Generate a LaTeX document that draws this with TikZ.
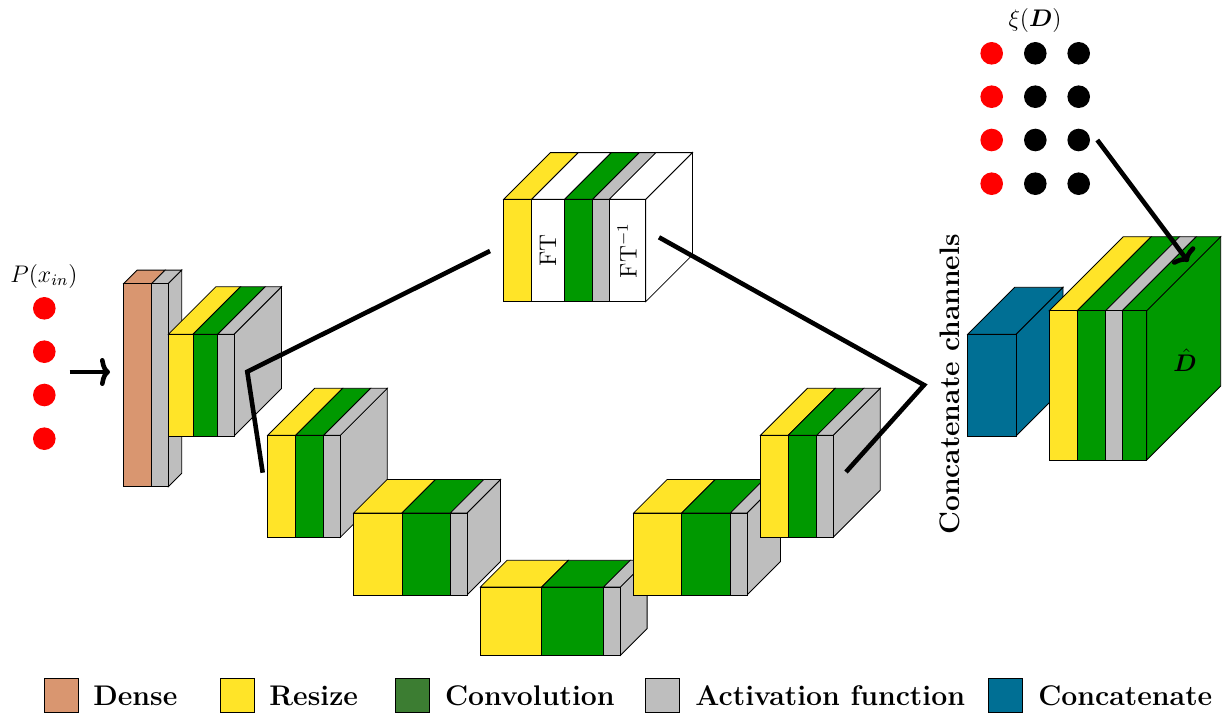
\documentclass[tikz,border=0pt]{standalone}
\usepackage{bm}
\usetikzlibrary{arrows.meta}

\definecolor{densecol}{RGB}{217,150,112}
\definecolor{resizecol}{RGB}{255,228,40}
\definecolor{convcol}{RGB}{0,153,0}
\definecolor{convkey}{RGB}{60,125,50}
\definecolor{activcol}{RGB}{190,190,190}
\definecolor{concatcol}{RGB}{0,111,148}

\tikzset{
  face/.style={draw=black,line width=0.4pt},
  wire/.style={draw,line width=2.3pt},
  keybox/.style={draw=black,line width=0.4pt,minimum width=17pt,minimum height=17pt,inner sep=0pt},
  keytext/.style={anchor=base west,inner sep=0pt,font=\fontsize{14.2}{17}\selectfont\bfseries}
}

% top, bottom, depth, x of the last panel edge, side colour, panels
\newcommand{\layerbox}[6]{
  \filldraw[face,fill=#5] (#4,#1) -- (#4+#3,#1-#3) -- (#4+#3,#2-#3) -- (#4,#2) -- cycle;
  \foreach \xl/\xr/\col in {#6} {
    \filldraw[face,fill=\col] (\xl,#1) -- (\xl+#3,#1-#3) -- (\xr+#3,#1-#3) -- (\xr,#1) -- cycle;
    \filldraw[face,fill=\col] (\xl,#1) rectangle (\xr,#2);
  }
}

\begin{document}
\begin{tikzpicture}[x=0.5pt,y=-0.5pt]

        \useasboundingbox (0,0) rectangle (1223,713);

        \layerbox{283.5}{486.7}{13.4}{168.3}{activcol}{123.7/151.7/densecol,151.7/168.3/activcol}
        \layerbox{334.3}{436}{47.5}{234}{activcol}{168.3/193/resizecol,193/217.7/convcol,217.7/234/activcol}
        \layerbox{435.3}{537.3}{47}{340.3}{activcol}{267.7/295.7/resizecol,295.7/323.7/convcol,323.7/340.3/activcol}
        \layerbox{513}{595}{33.5}{467}{activcol}{353.6/402/resizecol,402/450.4/convcol,450.4/467/activcol}
        \layerbox{587}{655.3}{26.7}{620.4}{activcol}{480.4/541.8/resizecol,541.8/603.6/convcol,603.6/620.4/activcol}
        \layerbox{513}{595}{33.5}{747}{activcol}{633.6/681.8/resizecol,681.8/730.4/convcol,730.4/747/activcol}
        \layerbox{435.3}{537.3}{47}{833.2}{activcol}{760.4/788.2/resizecol,788.2/816.8/convcol,816.8/833.2/activcol}
        \layerbox{199.3}{301.7}{46.7}{645.7}{white}{503.7/531.7/resizecol,531.7/564.7/white,564.7/592.7/convcol,592.7/609.3/activcol,609.3/645.7/white}
        \layerbox{334.3}{436}{47}{1016}{concatcol}{967.7/1016/concatcol}
        \layerbox{310.7}{460}{74}{1146.7}{convcol}{1049.3/1077.3/resizecol,1077.3/1105.7/convcol,1105.7/1122.3/activcol,1122.3/1146.7/convcol}

        \node[rotate=90,font=\large] (ftlabel) at (548,250.5) {FT};
        \node[rotate=90,font=\large] (ftinvlabel) at (627,250.5) {FT$^{-1}$};
        \node[rotate=90,font=\fontsize{14.1}{17}\selectfont\bfseries] (concatlabel) at (950,384.5) {Concatenate channels};
        \node[font=\large] (dhat) at (1185,360) {$\hat{\bm{D}}$};
        \node[font=\large] (pinput) at (44,276) {$P(x_{in})$};
        \node[font=\large] (xinoise) at (1035,20) {$\xi(\bm{D})$};

        \begin{scope}[every node/.style={circle,fill=red,minimum size=11.3pt,inner sep=0pt}]
          \node (1)  at (44.3,308.3) {};
          \node (2)  at (44.3,351.7) {};
          \node (3)  at (44.3,395)   {};
          \node (4)  at (44.3,438.7) {};
          \node (5)  at (991.7,53.3) {};
          \node (6)  at (991.7,96.7) {};
          \node (7)  at (991.7,140)  {};
          \node (8)  at (991.7,183.7) {};
        \end{scope}

        \begin{scope}[every node/.style={circle,fill=black,minimum size=11.3pt,inner sep=0pt}]
          \node (9)  at (1035.3,53.3) {};
          \node (10) at (1035.3,96.7) {};
          \node (11) at (1035.3,140)  {};
          \node (12) at (1035.3,183.7) {};
          \node (13) at (1078.7,53.3) {};
          \node (14) at (1078.7,96.7) {};
          \node (15) at (1078.7,140)  {};
          \node (16) at (1078.7,183.7) {};
        \end{scope}

        \coordinate (ftleft) at (490,251);
        \coordinate (bendleft) at (247.3,371.7);
        \coordinate (downin) at (262.7,472.7);
        \coordinate (ftright) at (659,237.3);
        \coordinate (bendright) at (924,385);
        \coordinate (upout) at (846,472);
        \coordinate (inarrow) at (69.7,372);
        \coordinate (denseside) at (110,372);
        \coordinate (dotsout) at (1097.3,140);
        \coordinate (finalbox) at (1188.3,261.7);

        \draw[wire] (ftleft) -- (bendleft) -- (downin);
        \draw[wire] (ftright) -- (bendright) -- (upout);

        \begin{scope}[every edge/.style={wire,-{To[length=5pt,width=14pt]}}]
          \path (inarrow) edge (denseside);
          \path (dotsout) edge (finalbox);
        \end{scope}

        \node[keybox,fill=densecol] (k1) at (61.5,695) {};
        \node[keybox,fill=resizecol] (k2) at (237,695) {};
        \node[keybox,fill=convkey] (k3) at (412,695) {};
        \node[keybox,fill=activcol] (k4) at (662,695) {};
        \node[keybox,fill=concatcol] (k5) at (1005.3,695) {};

        \node[keytext] (t1) at (93,705) {Dense};
        \node[keytext] (t2) at (269,705) {Resize};
        \node[keytext] (t3) at (444.6,705) {Convolution};
        \node[keytext] (t4) at (695,705) {Activation function};
        \node[keytext] (t5) at (1038,705) {Concatenate};

      \end{tikzpicture}
\end{document}
